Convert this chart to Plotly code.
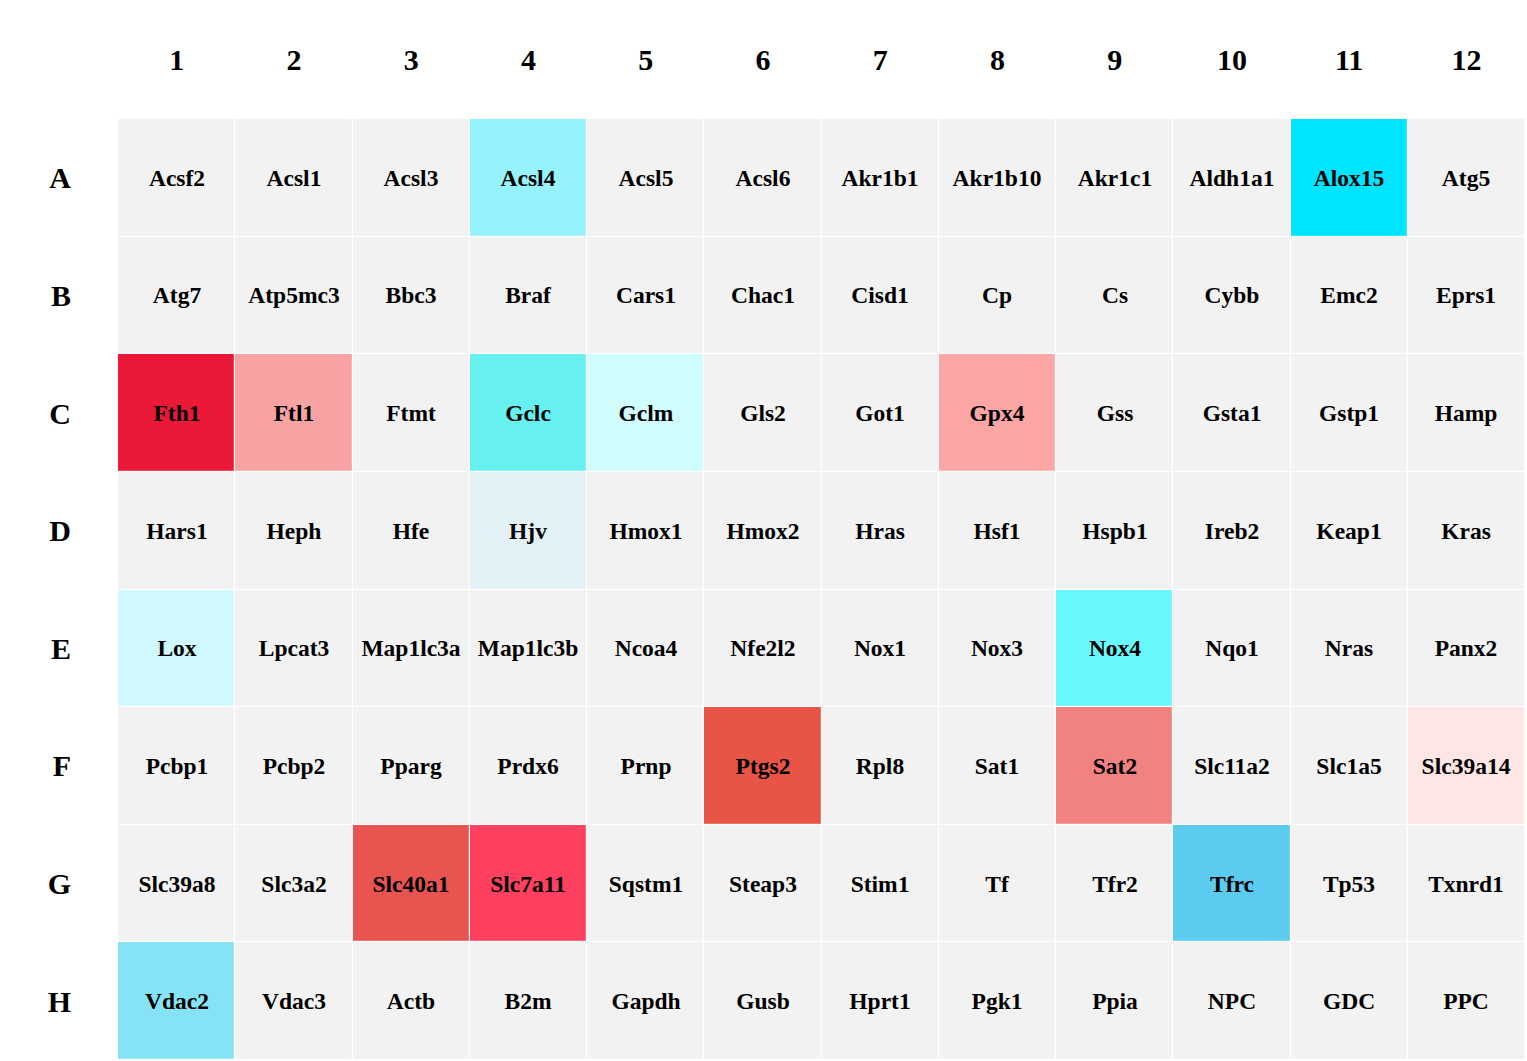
import plotly.graph_objects as go

col_labels = [str(i) for i in range(1, 13)]
row_labels = ["A", "B", "C", "D", "E", "F", "G", "H"]

genes = [
    ["Acsf2", "Acsl1", "Acsl3", "Acsl4", "Acsl5", "Acsl6", "Akr1b1", "Akr1b10", "Akr1c1", "Aldh1a1", "Alox15", "Atg5"],
    ["Atg7", "Atp5mc3", "Bbc3", "Braf", "Cars1", "Chac1", "Cisd1", "Cp", "Cs", "Cybb", "Emc2", "Eprs1"],
    ["Fth1", "Ftl1", "Ftmt", "Gclc", "Gclm", "Gls2", "Got1", "Gpx4", "Gss", "Gsta1", "Gstp1", "Hamp"],
    ["Hars1", "Heph", "Hfe", "Hjv", "Hmox1", "Hmox2", "Hras", "Hsf1", "Hspb1", "Ireb2", "Keap1", "Kras"],
    ["Lox", "Lpcat3", "Map1lc3a", "Map1lc3b", "Ncoa4", "Nfe2l2", "Nox1", "Nox3", "Nox4", "Nqo1", "Nras", "Panx2"],
    ["Pcbp1", "Pcbp2", "Pparg", "Prdx6", "Prnp", "Ptgs2", "Rpl8", "Sat1", "Sat2", "Slc11a2", "Slc1a5", "Slc39a14"],
    ["Slc39a8", "Slc3a2", "Slc40a1", "Slc7a11", "Sqstm1", "Steap3", "Stim1", "Tf", "Tfr2", "Tfrc", "Tp53", "Txnrd1"],
    ["Vdac2", "Vdac3", "Actb", "B2m", "Gapdh", "Gusb", "Hprt1", "Pgk1", "Ppia", "NPC", "GDC", "PPC"],
]

# highlighted genes and their cell colour (others neutral grey)
highlight = {
    "Acsl4": "#96F2FF", "Alox15": "#00E5FF", "Fth1": "#EB1837", "Ftl1": "#F7A3A4",
    "Gclc": "#66F0F0", "Gclm": "#D0FEFF", "Gpx4": "#FCA6A6", "Hjv": "#E2F2F6",
    "Lox": "#D0F8FF", "Nox4": "#68F8FC", "Ptgs2": "#E85445", "Sat2": "#F28282",
    "Slc39a14": "#FEE6E4", "Slc40a1": "#E85550", "Slc7a11": "#FF4060",
    "Tfrc": "#5BCBEF", "Vdac2": "#86E3F5",
}
neutral = "#F2F2F2"

palette = [neutral] + list(highlight.values())
idx = {g: i + 1 for i, g in enumerate(highlight)}
z = [[idx.get(g, 0) for g in row] for row in genes]

n = len(palette)
colorscale = []
for i, c in enumerate(palette):
    colorscale.append([i / n, c])
    colorscale.append([(i + 1) / n, c])

fig = go.Figure(go.Heatmap(
    z=z, x=col_labels, y=row_labels,
    text=genes, texttemplate="%{text}",
    textfont=dict(family="Liberation Serif", size=23.5, color="black", weight="bold"),
    colorscale=colorscale, zmin=-0.5, zmax=n - 0.5,
    showscale=False, xgap=1.2, ygap=1.2,
    hovertemplate="%{y}%{x}: %{text}<extra></extra>",
))

fig.update_layout(
    width=1527, height=1061,
    margin=dict(l=118, r=2, t=119, b=1),
    paper_bgcolor="white", plot_bgcolor="white",
    font=dict(family="Liberation Serif", color="black"),
)
fig.update_xaxes(side="top", showgrid=False, zeroline=False, showline=False,
                 ticks="", tickfont=dict(size=30, family="Liberation Serif", weight="bold"),
                 ticklabelstandoff=42)
fig.update_yaxes(autorange="reversed", showgrid=False, zeroline=False, showline=False,
                 ticks="", tickfont=dict(size=30, family="Liberation Serif", weight="bold"),
                 ticklabelstandoff=46)

fig.write_html("out.html")
